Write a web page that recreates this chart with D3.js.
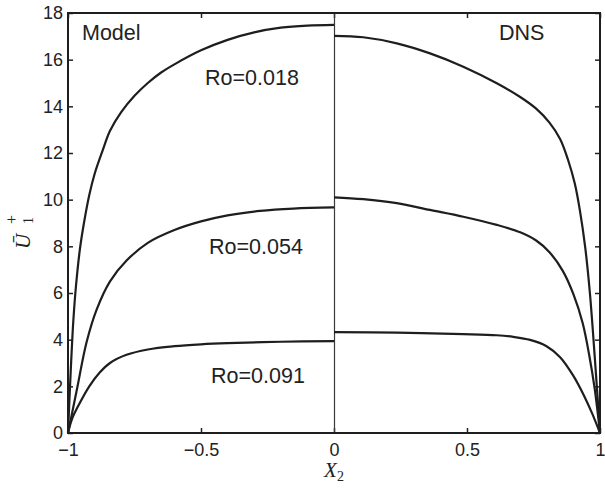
<!DOCTYPE html>
<html>
<head>
<meta charset="utf-8">
<script src="https://cdn.jsdelivr.net/npm/d3@7"></script>
<style>
  body { margin: 0; background: #fff; }
  .axisStyle path { display: none; }
  .axisStyle line { stroke: #222; stroke-width: 1.5; }
  .axisStyle text { font-family: "Liberation Sans", Arial, sans-serif; font-size: 18px; fill: #222; }
  .lbl { font-family: "Liberation Sans", Arial, sans-serif; font-size: 21.5px; fill: #222; }
  .math { font-family: "Liberation Serif", "Times New Roman", serif; fill: #222; }
</style>
</head>
<body>
<div class="chart"></div>
<script>
// margin
const margin = {top: 13, right: 5, bottom: 55, left: 68};

let width = 605 - margin.left - margin.right;
let height = 488 - margin.top - margin.bottom;

// model curves, left half
const xModel018 = [-1, -0.99, -0.98, -0.97, -0.955, -0.94, -0.92, -0.9, -0.87, -0.842, -0.8, -0.75, -0.7, -0.65, -0.6, -0.5, -0.4, -0.3, -0.2, -0.1, 0];
const uModel018 = [0, 2.6, 4.8, 6.3, 7.9, 9.0, 10.2, 11.1, 12.1, 12.95, 13.75, 14.45, 15.0, 15.45, 15.8, 16.4, 16.85, 17.17, 17.37, 17.46, 17.49];

const xModel054 = [-1, -0.967, -0.93, -0.892, -0.842, -0.779, -0.7, -0.6, -0.5, -0.4, -0.278, -0.153, 0];
const uModel054 = [0, 1.84, 3.9, 5.3, 6.5, 7.4, 8.15, 8.7, 9.07, 9.33, 9.52, 9.62, 9.67];

const xModel091 = [-1, -0.985, -0.955, -0.92, -0.88, -0.842, -0.78, -0.7, -0.6, -0.5, -0.4, -0.2, 0];
const uModel091 = [0, 0.6, 1.3, 2.0, 2.6, 3.0, 3.35, 3.58, 3.72, 3.8, 3.85, 3.91, 3.94];

// DNS curves, right half
const xDns018 = [0, 0.110, 0.236, 0.361, 0.486, 0.612, 0.7, 0.76, 0.81, 0.85, 0.88, 0.905, 0.925, 0.945, 0.962, 0.98, 1];
const uDns018 = [17.02, 16.96, 16.70, 16.27, 15.70, 14.99, 14.4, 13.9, 13.3, 12.6, 11.7, 10.7, 9.5, 7.9, 6.0, 3.3, 0];

const xDns054 = [0, 0.110, 0.236, 0.361, 0.486, 0.612, 0.7, 0.76, 0.81, 0.86, 0.9, 0.935, 0.96, 0.98, 1];
const uDns054 = [10.10, 10.02, 9.85, 9.56, 9.27, 8.92, 8.6, 8.25, 7.75, 6.95, 5.95, 4.7, 3.3, 1.9, 0];

const xDns091 = [0, 0.236, 0.486, 0.612, 0.674, 0.737, 0.799, 0.85, 0.9, 0.94, 0.97, 1];
const uDns091 = [4.32, 4.30, 4.24, 4.19, 4.12, 3.99, 3.72, 3.25, 2.45, 1.6, 0.85, 0];

const xTicks = [-1, -0.5, 0, 0.5, 1];
const yTicks = [0, 2, 4, 6, 8, 10, 12, 14, 16, 18];
const roLabels = ["Ro=0.018", "Ro=0.054", "Ro=0.091"];

let svg = d3.select(".chart")
    .append("svg")
    .attr("width", 605)
    .attr("height", 488)
    .append("g")
    .attr("transform", "translate(" + margin.left + "," + margin.top + ")");

let xScale = d3.scaleLinear().domain([-1, 1]).range([0, width]);
let yScale = d3.scaleLinear().domain([0, 18]).range([height, 0]);

// axes, ticks pointing inward
svg.append("g")
    .attr("class", "axisStyle")
    .attr("transform", "translate(0," + height + ")")
    .call(d3.axisBottom(xScale).tickValues(xTicks).tickSizeInner(-5).tickSizeOuter(0).tickPadding(10)
        .tickFormat(d => d === 0 ? "0" : d3.format("")(d).replace("-", "\u2013")));

svg.append("g")
    .attr("class", "axisStyle")
    .call(d3.axisTop(xScale).tickValues(xTicks).tickSizeInner(-5).tickSizeOuter(0).tickFormat(""));

svg.append("g")
    .attr("class", "axisStyle")
    .call(d3.axisLeft(yScale).tickValues(yTicks).tickSizeInner(-5).tickSizeOuter(0).tickPadding(5));

svg.append("g")
    .attr("class", "axisStyle")
    .attr("transform", "translate(" + width + ",0)")
    .call(d3.axisRight(yScale).tickValues(yTicks).tickSizeInner(-5).tickSizeOuter(0).tickFormat(""));

// divider at X2 = 0
svg.append("line")
    .attr("x1", xScale(0) + 0.5).attr("x2", xScale(0) + 0.5)
    .attr("y1", 0).attr("y2", height)
    .attr("stroke", "#3a3a3a")
    .attr("stroke-width", 1.2);

// curves
let line = d3.line()
    .x(d => xScale(d[0]))
    .y(d => yScale(d[1]))
    .curve(d3.curveCatmullRom.alpha(0.5));

let series = [
    [xModel018, uModel018], [xModel054, uModel054], [xModel091, uModel091],
    [xDns018, uDns018], [xDns054, uDns054], [xDns091, uDns091]
];

svg.selectAll("path.curve")
    .data(series)
    .enter()
    .append("path")
    .attr("class", "curve")
    .attr("d", s => line(d3.zip(s[0], s[1])))
    .attr("fill", "none")
    .attr("stroke", "#1e1e1e")
    .attr("stroke-width", 2.2);

// frame
svg.append("rect")
    .attr("width", width).attr("height", height)
    .attr("fill", "none")
    .attr("stroke", "#1e1e1e")
    .attr("stroke-width", 2);

// text labels
svg.append("text").attr("class", "lbl").attr("x", 82 - margin.left).attr("y", 40 - margin.top).text("Model");
svg.append("text").attr("class", "lbl").attr("x", 499 - margin.left).attr("y", 40 - margin.top).text("DNS");

let roPos = [[205, 85], [209, 254], [211, 383]];
svg.selectAll("text.ro")
    .data(roLabels)
    .enter()
    .append("text")
    .attr("class", "lbl ro")
    .attr("x", (d, i) => roPos[i][0] - margin.left)
    .attr("y", (d, i) => roPos[i][1] - margin.top)
    .text(d => d);

// x label
let xl = d3.select("svg").append("text")
    .attr("class", "math")
    .attr("x", 334).attr("y", 477)
    .attr("text-anchor", "middle")
    .attr("font-size", 21);
xl.append("tspan").attr("font-style", "italic").text("X");
xl.append("tspan").attr("font-size", 14).attr("dy", 4).text("2");

// y label
let yl = d3.select("svg").append("g")
    .attr("transform", "translate(30,249) rotate(-90)");
yl.append("text").attr("class", "math").attr("font-size", 21).attr("font-style", "italic")
    .attr("x", 0).attr("y", 0).text("\u016A");
yl.append("text").attr("class", "math").attr("font-size", 14)
    .attr("x", 25).attr("y", 3).text("1");
yl.append("text").attr("class", "math").attr("font-size", 16)
    .attr("x", 25).attr("y", -13).text("+");
</script>
</body>
</html>
